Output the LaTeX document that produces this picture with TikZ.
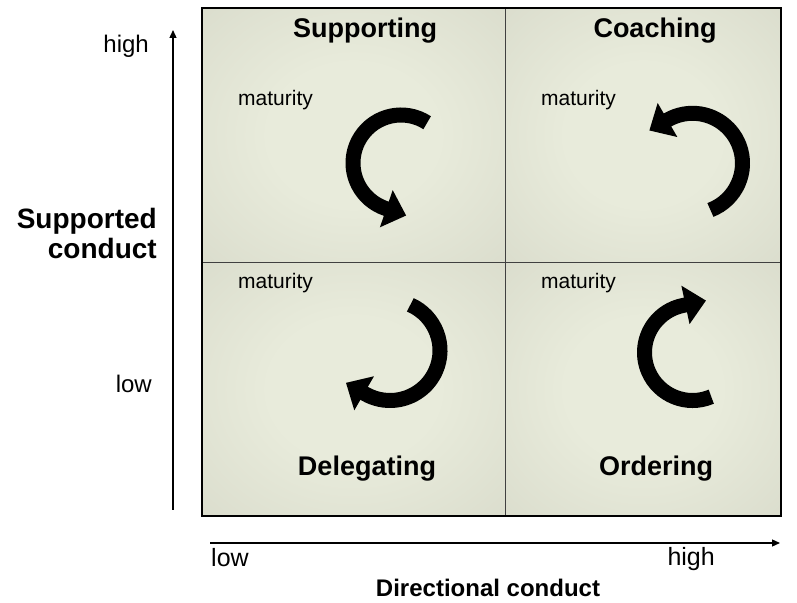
\documentclass[tikz,border=0pt]{standalone}
\usepackage{fontspec}
\setmainfont{Liberation Sans}
\usetikzlibrary{arrows.meta}
\definecolor{quadlight}{RGB}{232,235,219}
\definecolor{quadmid}{RGB}{210,212,196}
\definecolor{quadshade}{RGB}{180,182,165}
\pgfdeclareradialshading{quadglow}{\pgfpoint{0bp}{0bp}}{color(0bp)=(quadlight); color(14bp)=(quadlight); color(50bp)=(quadmid); color(71bp)=(quadshade)}

\begin{document}
\begin{tikzpicture}[x=1pt,y=1pt,
    title/.style={font=\fontsize{27}{30}\selectfont\bfseries, anchor=base, inner sep=0pt},
    tag/.style={font=\fontsize{21}{24}\selectfont, anchor=base west, inner sep=0pt},
    level/.style={font=\fontsize{24}{28}\selectfont, inner sep=0pt},
    turn/.style={line width=15pt, -{Triangle[length=21pt,width=38pt]}},
    axis/.style={line width=1.3pt, -{Triangle[length=8pt,width=7pt]}}]
    \useasboundingbox (0,0) rectangle (797,602);

    % quadrants
    \shade[shading=quadglow] (202,340) rectangle (505,594);
    \shade[shading=quadglow] (505,340) rectangle (781,594);
    \shade[shading=quadglow] (202,86) rectangle (505,340);
    \shade[shading=quadglow] (505,86) rectangle (781,340);
    \draw[black!75, line width=0.8pt] (505,86) -- (505,594);
    \draw[black!75, line width=0.8pt] (202,340) -- (781,340);
    \draw[line width=1.5pt] (202,86) rectangle (781,594);

    % axes
    \coordinate (yfoot) at (173,92);
    \coordinate (ytop) at (173,572);
    \coordinate (xfoot) at (210,59);
    \coordinate (xtip) at (780,59);
    \draw[axis] (yfoot) -- (ytop);
    \draw[axis] (xfoot) -- (xtip);

    \node[level, anchor=base east] (yhigh) at (149,549) {high};
    \node[level, anchor=base east] (ylow) at (152,209) {low};
    \node[font=\fontsize{28}{30}\selectfont\bfseries, align=right, anchor=east, inner sep=0pt] (yname) at (157,369) {Supported\\conduct};
    \node[level, font=\fontsize{25}{28}\selectfont, anchor=base west] (xlow) at (211,36) {low};
    \node[level, font=\fontsize{25}{28}\selectfont, anchor=base east] (xhigh) at (715,37) {high};
    \node[font=\fontsize{24}{28}\selectfont\bfseries, anchor=base, inner sep=0pt] (xname) at (488,6) {Directional conduct};

    % Supporting
    \node[title] (supporting) at (365,564) {Supporting};
    \node[tag] (matsupp) at (238,496) {maturity};
    \draw[turn] (401,439) ++(57:48pt) arc[start angle=57, end angle=251, radius=48pt] -- ++(-19:22pt);

    % Coaching
    \node[title] (coaching) at (655,564) {Coaching};
    \node[tag] (matcoach) at (541,496) {maturity};
    \draw[turn] (692.5,438.7) ++(-69:50pt) arc[start angle=-69, end angle=120, radius=50pt] -- ++(210:21pt);

    % Delegating
    \node[title] (delegating) at (367,126) {Delegating};
    \node[tag] (matdeleg) at (238,313) {maturity};
    \draw[turn] (390,251.5) ++(66:50pt) arc[start angle=66, end angle=-120, radius=50pt] -- ++(150:22pt);

    % Ordering
    \node[title] (ordering) at (656,126) {Ordering};
    \node[tag] (matorder) at (541,313) {maturity};
    \draw[turn] (692.5,249.5) ++(-67:48pt) arc[start angle=-67, end angle=-258, radius=48pt] -- ++(12:24pt);

\end{tikzpicture}
\end{document}
